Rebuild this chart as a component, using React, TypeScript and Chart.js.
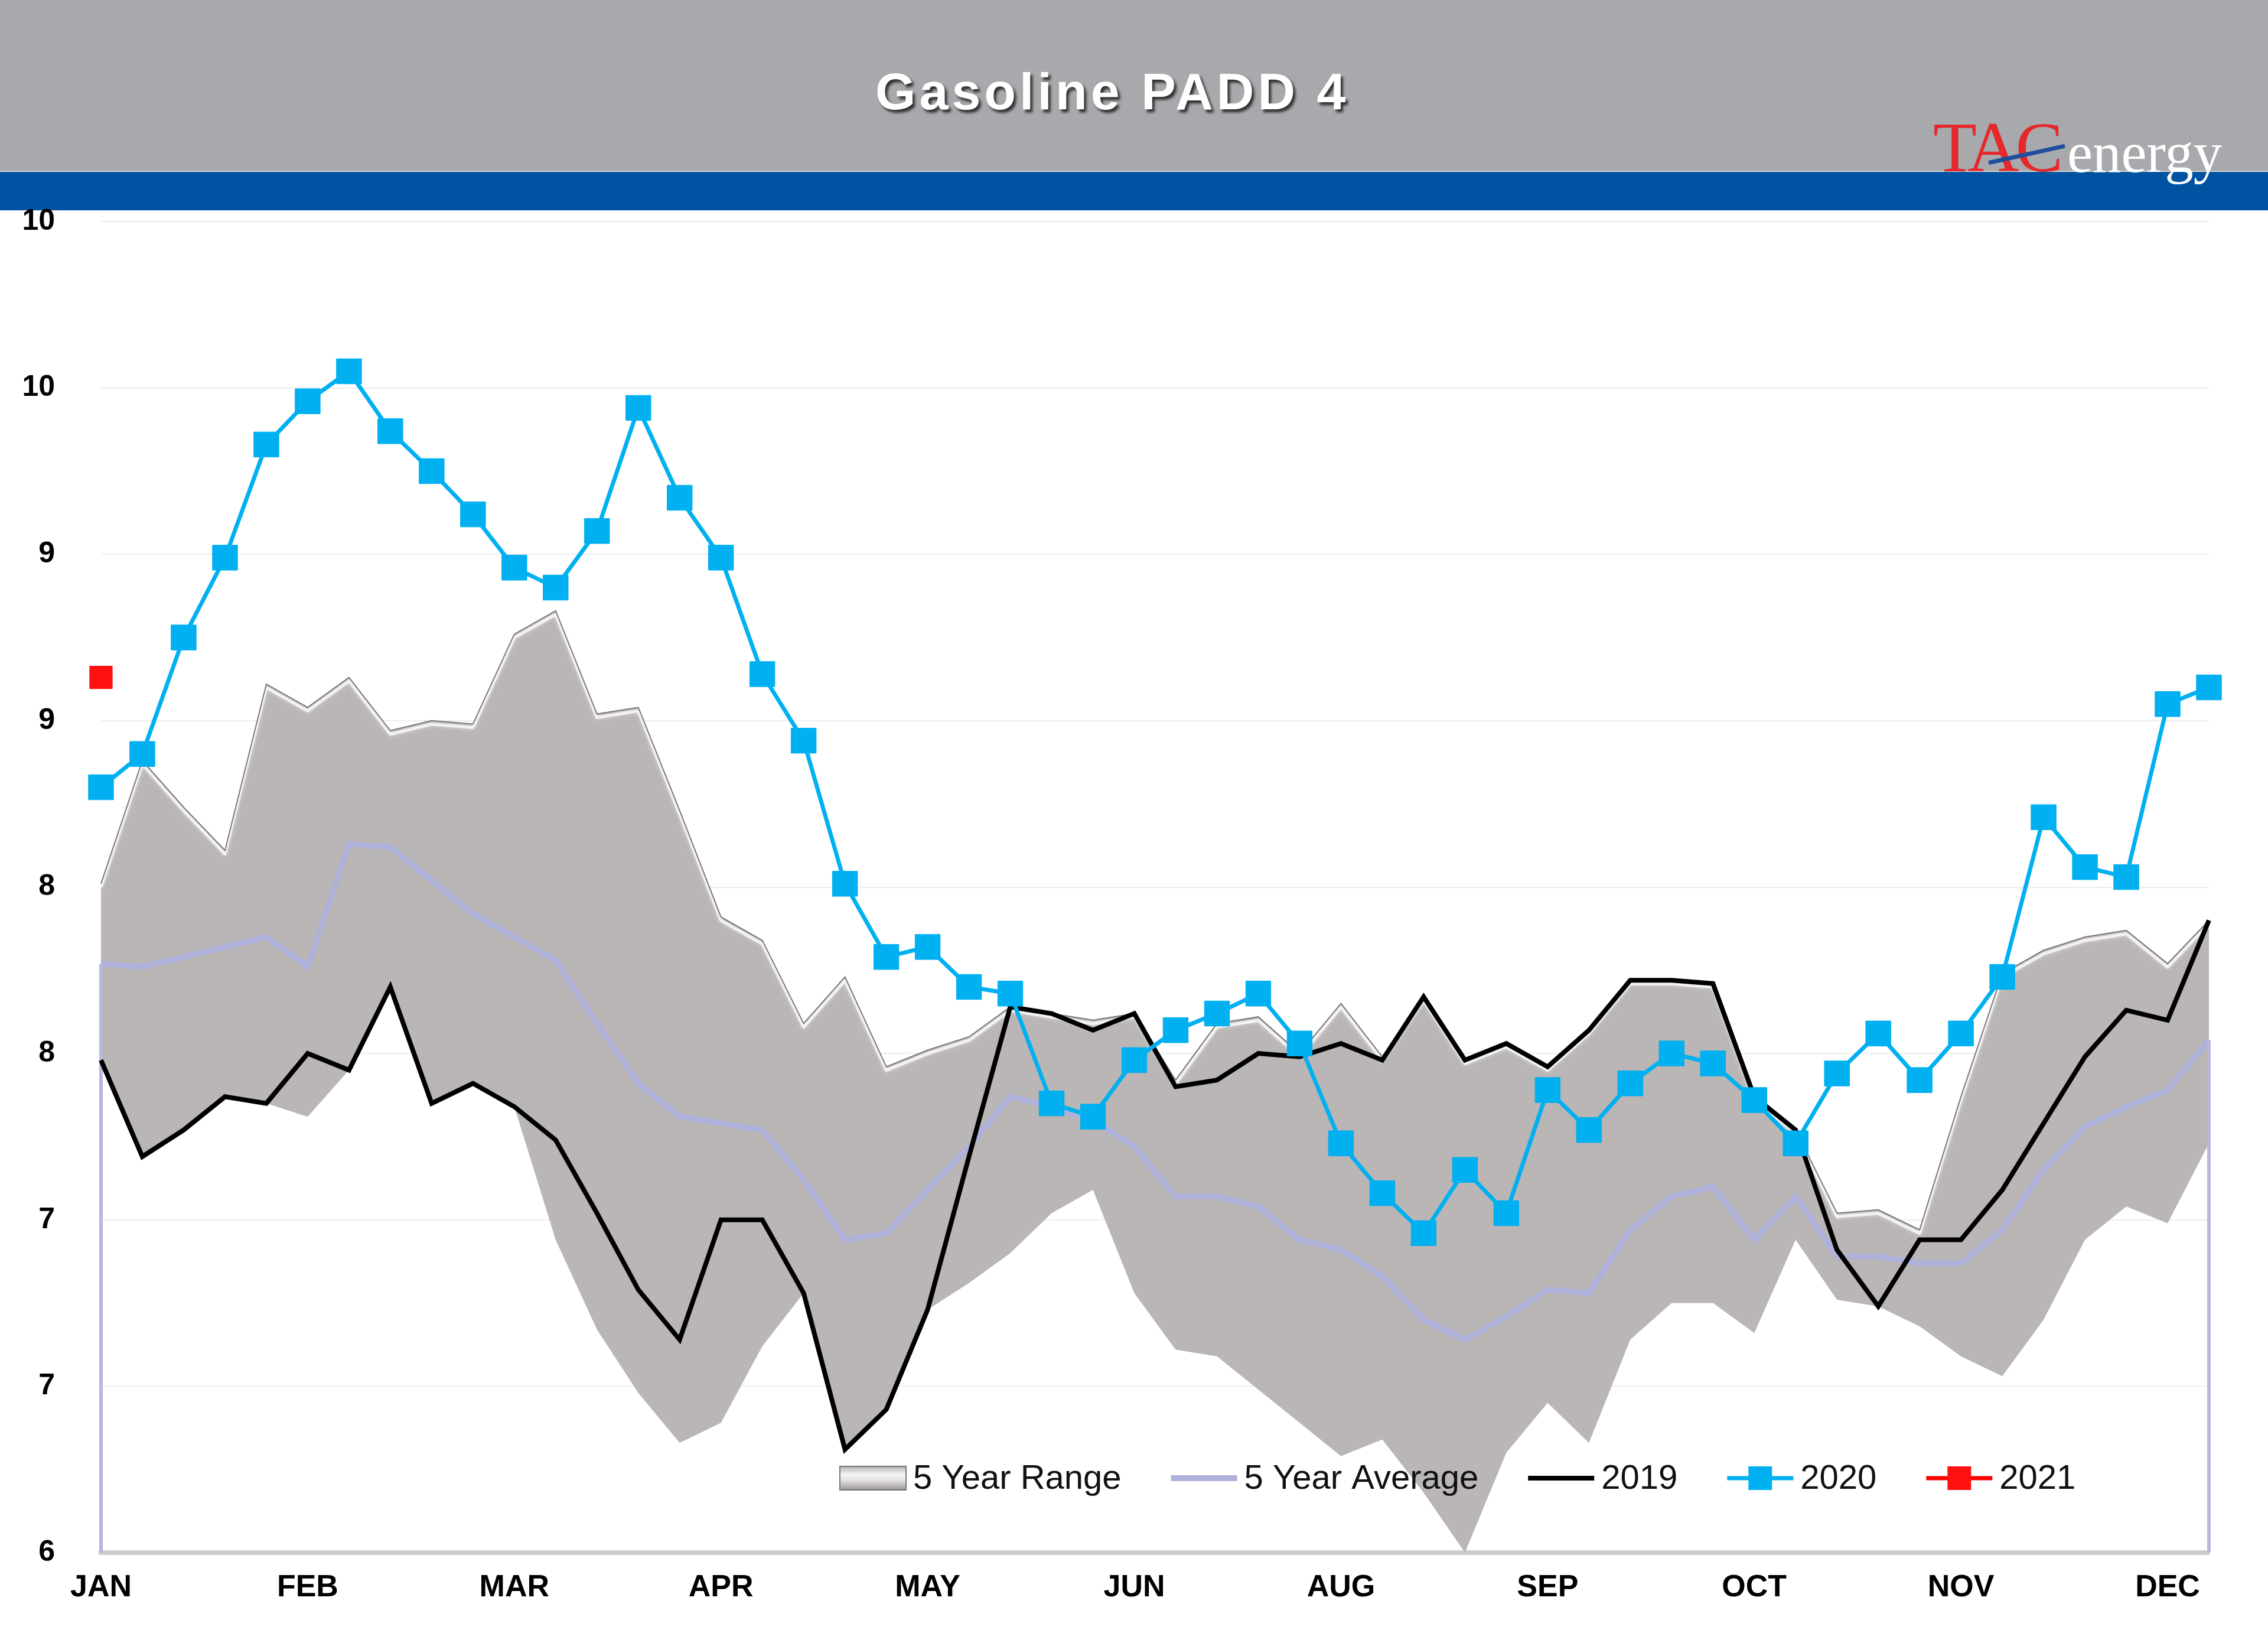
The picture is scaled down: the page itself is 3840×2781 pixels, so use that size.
import React, { useEffect, useRef } from 'react';
import { Chart, registerables } from 'chart.js';

Chart.register(...registerables);

// ---- Data ----
const MONTH_TICKS = ['JAN', 'FEB', 'MAR', 'APR', 'MAY', 'JUN', 'AUG', 'SEP', 'OCT', 'NOV', 'DEC'];
const WEEKS_PER_TICK = 5;
const WEEK_COUNT = 52;

const RANGE_MAX = [
  8.01, 8.38, 8.24, 8.11, 8.61, 8.54, 8.63, 8.47, 8.50, 8.49,
  8.76, 8.83, 8.52, 8.54, 8.23, 7.91, 7.84, 7.59, 7.73, 7.46,
  7.51, 7.55, 7.64, 7.62, 7.60, 7.62, 7.42, 7.59, 7.61, 7.50,
  7.65, 7.49, 7.67, 7.48, 7.53, 7.46, 7.57, 7.72, 7.72, 7.71,
  7.37, 7.27, 7.02, 7.03, 6.97, 7.37, 7.74, 7.81, 7.85, 7.87,
  7.77, 7.90,
];

const RANGE_MIN = [
  7.48, 7.19, 7.27, 7.37, 7.35, 7.31, 7.45, 7.70, 7.35, 7.41,
  7.34, 6.94, 6.67, 6.48, 6.33, 6.39, 6.62, 6.78, 6.31, 6.43,
  6.73, 6.81, 6.90, 7.02, 7.09, 6.78, 6.61, 6.59, 6.49, 6.39,
  6.29, 6.34, 6.18, 6.00, 6.30, 6.45, 6.33, 6.64, 6.75, 6.75,
  6.66, 6.94, 6.76, 6.74, 6.68, 6.59, 6.53, 6.70, 6.94, 7.04,
  6.99, 7.23,
];

const AVG_5Y = [
  7.77, 7.76, 7.79, 7.82, 7.85, 7.76, 8.13, 8.12, 8.02, 7.92,
  7.85, 7.78, 7.59, 7.41, 7.31, 7.29, 7.27, 7.12, 6.94, 6.96,
  7.09, 7.22, 7.37, 7.34, 7.30, 7.22, 7.07, 7.07, 7.04, 6.94,
  6.91, 6.83, 6.70, 6.64, 6.71, 6.79, 6.78, 6.97, 7.07, 7.10,
  6.94, 7.07, 6.89, 6.89, 6.87, 6.87, 6.97, 7.15, 7.28, 7.34,
  7.39, 7.54,
];

const Y2019 = [
  7.48, 7.19, 7.27, 7.37, 7.35, 7.50, 7.45, 7.70, 7.35, 7.41,
  7.34, 7.24, 7.02, 6.79, 6.64, 7.00, 7.00, 6.78, 6.31, 6.43,
  6.73, 7.19, 7.64, 7.62, 7.57, 7.62, 7.40, 7.42, 7.50, 7.49,
  7.53, 7.48, 7.67, 7.48, 7.53, 7.46, 7.57, 7.72, 7.72, 7.71,
  7.37, 7.27, 6.91, 6.74, 6.94, 6.94, 7.09, 7.29, 7.49, 7.63,
  7.60, 7.90,
];

const Y2020 = [
  8.30, 8.40, 8.75, 8.99, 9.33, 9.46, 9.55, 9.37, 9.25, 9.12,
  8.96, 8.90, 9.07, 9.44, 9.17, 8.99, 8.64, 8.44, 8.01, 7.79,
  7.82, 7.70, 7.68, 7.35, 7.31, 7.48, 7.57, 7.62, 7.68, 7.53,
  7.23, 7.08, 6.96, 7.15, 7.02, 7.39, 7.27, 7.41, 7.50, 7.47,
  7.36, 7.23, 7.44, 7.56, 7.42, 7.56, 7.73, 8.21, 8.06, 8.03,
  8.55, 8.60,
];

const Y2021 = [8.63];

const Y_MIN = 6;
const Y_MAX = 10;
const Y_STEP = 0.5;

const LABELS = Array.from({ length: WEEK_COUNT }, (_, i) =>
  i % WEEKS_PER_TICK === 0 ? MONTH_TICKS[i / WEEKS_PER_TICK] ?? '' : ''
);

// ---- Plugins ----
// Soft bevel highlight just inside the top edge of the range band
const rangeBevel = {
  id: 'rangeBevel',
  afterDatasetDraw(chart: any, args: any, opts: any) {
    const ds = chart.data.datasets[args.index];
    if (!ds || !ds.bevel) return;
    const lowMeta = chart.getDatasetMeta(args.index + 1);
    const top = args.meta.data;
    const low = lowMeta.data;
    if (!top.length || !low.length) return;
    const { ctx } = chart;
    ctx.save();
    ctx.beginPath();
    ctx.moveTo(top[0].x, top[0].y);
    for (let i = 1; i < top.length; i++) ctx.lineTo(top[i].x, top[i].y);
    for (let i = low.length - 1; i >= 0; i--) ctx.lineTo(low[i].x, low[i].y);
    ctx.closePath();
    ctx.clip();
    ctx.strokeStyle = opts.color;
    ctx.lineWidth = opts.width;
    ctx.lineJoin = 'round';
    ctx.shadowColor = opts.color;
    ctx.shadowBlur = opts.blur;
    ctx.beginPath();
    ctx.moveTo(top[0].x, top[0].y + opts.offset);
    for (let i = 1; i < top.length; i++) ctx.lineTo(top[i].x, top[i].y + opts.offset);
    ctx.stroke();
    ctx.restore();
    // thin outline on the top edge
    ctx.save();
    ctx.strokeStyle = opts.edgeColor;
    ctx.lineWidth = opts.edgeWidth;
    ctx.beginPath();
    ctx.moveTo(top[0].x, top[0].y);
    for (let i = 1; i < top.length; i++) ctx.lineTo(top[i].x, top[i].y);
    ctx.stroke();
    ctx.restore();
  },
};

const avgEdges = {
  id: 'avgEdges',
  afterDatasetDraw(chart: any, args: any, opts: any) {
    const ds = chart.data.datasets[args.index];
    if (!ds || !ds.edgeLines) return;
    const pts = args.meta.data;
    if (!pts.length) return;
    const { ctx, chartArea } = chart;
    ctx.save();
    ctx.strokeStyle = opts.color;
    ctx.lineWidth = opts.width;
    for (const p of [pts[0], pts[pts.length - 1]]) {
      ctx.beginPath();
      ctx.moveTo(p.x, p.y);
      ctx.lineTo(p.x, chartArea.bottom);
      ctx.stroke();
    }
    ctx.restore();
  },
};

const insideLegend = {
  id: 'insideLegend',
  afterDatasetsDraw(chart: any, _args: any, opts: any) {
    const { ctx, chartArea } = chart;
    const cy = chartArea.bottom - opts.bottomOffset;
    let x = chartArea.left + opts.leftOffset;
    ctx.save();
    ctx.font = `${opts.fontSize}px ${opts.fontFamily}`;
    ctx.textBaseline = 'middle';
    ctx.textAlign = 'left';
    for (const ds of chart.data.datasets) {
      if (!ds.legendIcon) continue;
      const w = opts.iconWidth;
      if (ds.legendIcon === 'box') {
        const h = opts.boxHeight;
        const g = ctx.createLinearGradient(0, cy - h / 2, 0, cy + h / 2);
        g.addColorStop(0, '#b5b2b2');
        g.addColorStop(0.35, '#f7f7f7');
        g.addColorStop(0.6, '#e2e0e0');
        g.addColorStop(1, '#9c9898');
        ctx.fillStyle = g;
        ctx.fillRect(x, cy - h / 2, w, h);
        ctx.strokeStyle = '#7a7676';
        ctx.lineWidth = 2;
        ctx.strokeRect(x, cy - h / 2, w, h);
      } else {
        ctx.strokeStyle = ds.borderColor;
        ctx.lineWidth = ds.borderWidth;
        ctx.beginPath();
        ctx.moveTo(x, cy);
        ctx.lineTo(x + w, cy);
        ctx.stroke();
        if (ds.legendIcon === 'marker') {
          const s = opts.markerSize;
          ctx.fillStyle = ds.pointBackgroundColor;
          ctx.fillRect(x + w / 2 - s / 2, cy - s / 2, s, s);
        }
      }
      ctx.fillStyle = '#111111';
      ctx.fillText(ds.label, x + w + opts.textGap, cy + 2);
      x += w + opts.textGap + ctx.measureText(ds.label).width + opts.itemGap;
    }
    ctx.restore();
  },
};

const FONT = 'Liberation Sans, Arial, sans-serif';

export default function App() {
  const canvasRef = useRef<HTMLCanvasElement>(null);

  useEffect(() => {
    const canvas = canvasRef.current;
    if (!canvas) return;
    const chart = new Chart(canvas, {
      type: 'line',
      data: {
        labels: LABELS,
        datasets: [
          {
            label: '5 Year Range',
            data: RANGE_MAX,
            fill: '+1',
            backgroundColor: '#bab6b5',
            borderColor: 'rgba(0,0,0,0)',
            borderWidth: 0,
            pointRadius: 0,
            order: 5,
            legendIcon: 'box',
            bevel: true,
          } as any,
          {
            label: '5 Year Range low',
            data: RANGE_MIN,
            fill: false,
            borderColor: 'rgba(0,0,0,0)',
            borderWidth: 0,
            pointRadius: 0,
            order: 6,
          },
          {
            label: '5 Year Average',
            data: AVG_5Y,
            fill: false,
            borderColor: '#aeb1da',
            borderWidth: 10,
            pointRadius: 0,
            order: 4,
            legendIcon: 'line',
            edgeLines: true,
          } as any,
          {
            label: '2019',
            data: Y2019,
            fill: false,
            borderColor: '#000000',
            borderWidth: 8,
            pointRadius: 0,
            order: 3,
            legendIcon: 'line',
          } as any,
          {
            label: '2020',
            data: Y2020,
            fill: false,
            borderColor: '#00b0f0',
            borderWidth: 7,
            pointStyle: 'rect',
            pointRadius: 30,
            pointBackgroundColor: '#00b0f0',
            pointBorderColor: '#00b0f0',
            pointBorderWidth: 1,
            order: 2,
            legendIcon: 'marker',
          } as any,
          {
            label: '2021',
            data: Y2021,
            fill: false,
            borderColor: '#ff0000',
            borderWidth: 7,
            pointStyle: 'rect',
            pointRadius: 27,
            pointBackgroundColor: '#ff1010',
            pointBorderColor: '#ff1010',
            pointBorderWidth: 1,
            order: 1,
            legendIcon: 'marker',
          } as any,
        ],
      },
      options: {
        responsive: false,
        animation: false,
        events: [],
        layout: { padding: { top: 375, right: 100, bottom: 0, left: 0 } },
        plugins: {
          legend: { display: false },
          tooltip: { enabled: false },
          title: { display: false },
          rangeBevel: {
            color: 'rgba(255,255,255,0.75)',
            width: 5,
            blur: 6,
            offset: 6,
            edgeColor: '#7e7878',
            edgeWidth: 2,
          },
          avgEdges: { color: '#b7b8db', width: 6 },
          insideLegend: {
            bottomOffset: 126,
            leftOffset: 1251,
            fontSize: 58,
            fontFamily: FONT,
            iconWidth: 112,
            boxHeight: 40,
            markerSize: 40,
            textGap: 12,
            itemGap: 84,
          },
        } as any,
        scales: {
          x: {
            type: 'category',
            offset: false,
            grid: { display: false, drawTicks: false },
            border: { display: true, color: '#cdcdcd', width: 8 },
            ticks: {
              autoSkip: false,
              maxRotation: 0,
              minRotation: 0,
              padding: 28,
              color: '#000000',
              font: { family: FONT, size: 52, weight: 'bold' },
            },
            afterFit: (s: any) => {
              s.height = 153;
            },
          },
          y: {
            min: Y_MIN,
            max: Y_MAX,
            ticks: {
              stepSize: Y_STEP,
              padding: 78,
              color: '#000000',
              font: { family: FONT, size: 50, weight: 'bold' },
              callback: (v: any) => String(Math.round(Number(v))),
            },
            grid: { color: '#eeeeee', lineWidth: 2, drawTicks: false },
            border: { display: false },
            afterFit: (s: any) => {
              s.width = 171;
            },
          },
        },
      } as any,
      plugins: [rangeBevel, avgEdges, insideLegend],
    });
    return () => chart.destroy();
  }, []);

  return (
    <div
      style={{
        position: 'absolute',
        left: 0,
        top: 0,
        width: 3840,
        height: 2781,
        background: '#ffffff',
        overflow: 'hidden',
      }}
    >
      <div style={{ position: 'absolute', left: 0, top: 0, width: 3840, height: 290, background: '#a7a9ac' }} />
      <div style={{ position: 'absolute', left: 0, top: 289, width: 3840, height: 2, background: '#d9d4cc' }} />
      <div style={{ position: 'absolute', left: 0, top: 291, width: 3840, height: 65, background: '#0053a2' }} />
      <div
        style={{
          position: 'absolute',
          left: 1482,
          top: 111,
          fontFamily: FONT,
          fontWeight: 'bold',
          fontSize: 88,
          lineHeight: 1,
          letterSpacing: 6,
          color: '#ffffff',
          whiteSpace: 'nowrap',
          textShadow: '4px 5px 4px rgba(35,35,35,0.9)',
        }}
      >
        Gasoline PADD 4
      </div>
      <div
        style={{
          position: 'absolute',
          left: 3273,
          top: 189,
          fontFamily: 'Liberation Serif, Times New Roman, serif',
          fontSize: 121,
          lineHeight: 1,
          letterSpacing: -6,
          color: '#e4282b',
          whiteSpace: 'nowrap',
        }}
      >
        TAC
      </div>
      <div
        style={{
          position: 'absolute',
          left: 3367,
          top: 272,
          width: 132,
          height: 7,
          background: '#1d4f9c',
          transform: 'rotate(-12.4deg)',
          transformOrigin: 'left center',
        }}
      />
      <div
        style={{
          position: 'absolute',
          left: 3500,
          top: 210,
          fontFamily: 'Liberation Serif, Times New Roman, serif',
          fontSize: 97,
          lineHeight: 1,
          color: '#ffffff',
          whiteSpace: 'nowrap',
        }}
      >
        energy
      </div>
      <canvas
        ref={canvasRef}
        width={3840}
        height={2781}
        style={{ position: 'absolute', left: 0, top: 0, width: 3840, height: 2781 }}
      />
    </div>
  );
}
